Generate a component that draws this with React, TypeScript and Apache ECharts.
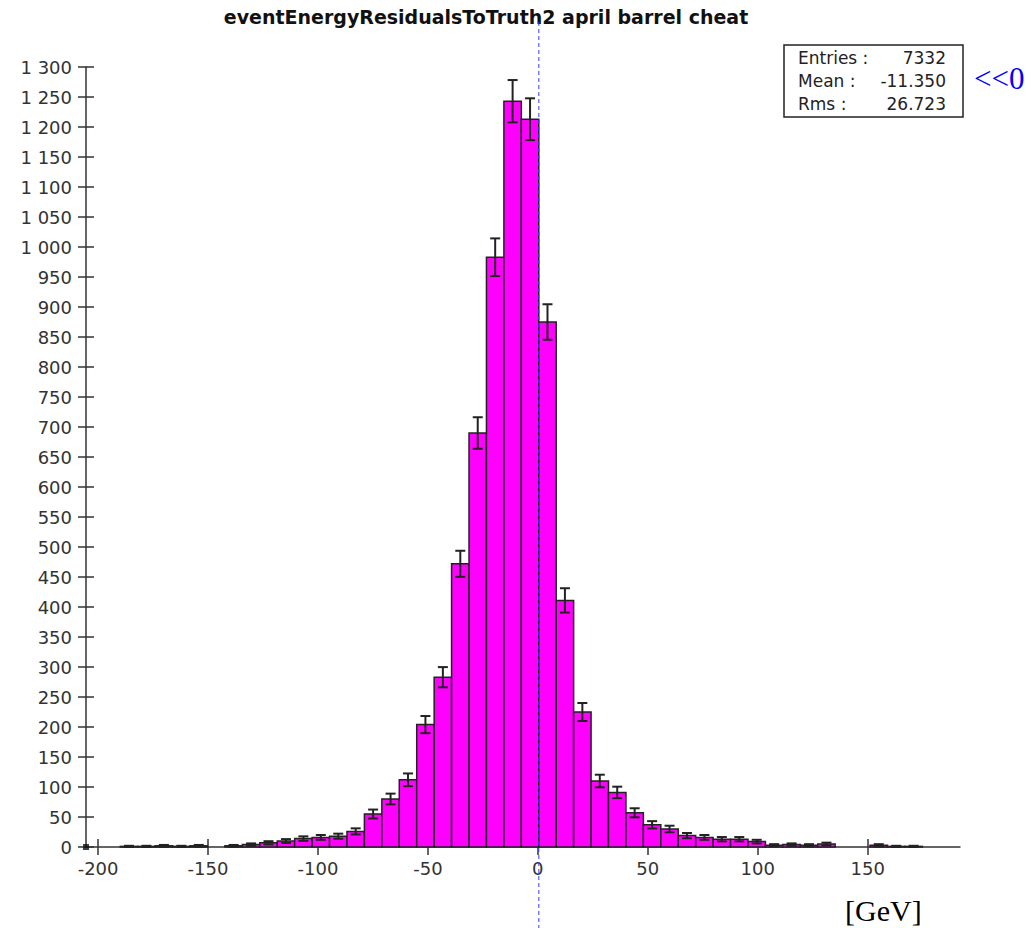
import React, { useEffect, useRef } from "react";
import * as echarts from "echarts";

// ---- data ----
const titleText = "eventEnergyResidualsToTruth2 april barrel cheat";
const binLow = -189.9; // lower edge of first filled bin [GeV]
const binWidth = 7.93; // bin width [GeV]
const counts = [
  1, 1, 2, 1, 2, 0, 2, 4, 7, 10, 14, 16, 18, 26, 55, 80, 112, 204, 283, 472,
  690, 983, 1243, 1213, 875, 411, 225, 110, 91, 57, 37, 30, 19, 16, 13, 13, 9,
  3, 4, 3, 5, 0, 0, 3, 1, 1,
];
const xTicks = [-200, -150, -100, -50, 0, 50, 100, 150];
const xMin = -205.5;
const xMax = 192;
const yMin = 0;
const yMax = 1300;
const yStep = 50;
const statsLabels = ["Entries :", "Mean :", "Rms :"];
const statsValues = ["7332", "-11.350", "26.723"];
const cutValue = 0;
const cutLabel = "<<0";
const unitLabel = "[GeV]";

const fmtY = (v: number) =>
  v >= 1000 ? `${Math.floor(v / 1000)} ${String(v % 1000).padStart(3, "0")}` : String(v);

export default function App() {
  const ref = useRef<HTMLDivElement>(null);
  useEffect(() => {
    if (!ref.current) return;
    const chart = echarts.init(ref.current, undefined, { renderer: "svg" });
    const histData = counts
      .map((c, i) => [binLow + i * binWidth, binLow + (i + 1) * binWidth, c, Math.sqrt(c)])
      .filter((d) => d[2] > 0);

    const axisColor = "#333";
    const labelFont = { fontFamily: "DejaVu Sans", fontSize: 18, color: "#333" };
    const tickStyle = { color: axisColor, width: 1.5 };

    const statsGraphics: any[] = [
      {
        type: "rect",
        shape: { x: 784, y: 45, width: 179, height: 72 },
        style: { fill: "#fff", stroke: "#222", lineWidth: 1.5 },
        z: 10,
      },
    ];
    const rowY = [58, 81, 104];
    statsLabels.forEach((l, i) => {
      statsGraphics.push({
        type: "text",
        x: 798,
        y: rowY[i],
        z: 11,
        style: { text: l, fontFamily: "DejaVu Sans", fontSize: 17, fill: "#222", textAlign: "left", textVerticalAlign: "middle" },
      });
      statsGraphics.push({
        type: "text",
        x: 946,
        y: rowY[i],
        z: 11,
        style: { text: statsValues[i], fontFamily: "DejaVu Sans", fontSize: 17, fill: "#222", textAlign: "right", textVerticalAlign: "middle" },
      });
    });

    chart.setOption({
      animation: false,
      backgroundColor: "#fff",
      grid: { left: 86, right: 72, top: 67, bottom: 81, containLabel: false },
      xAxis: [
        {
          type: "value",
          min: xMin,
          max: xMax,
          position: "bottom",
          axisLine: { show: true, onZero: false, lineStyle: { color: axisColor, width: 1.5 } },
          axisTick: { show: false },
          axisLabel: { ...labelFont, margin: 12, customValues: xTicks, formatter: (v: number) => String(v) },
          splitLine: { show: false },
        },
        {
          type: "value",
          min: xMin,
          max: xMax,
          position: "bottom",
          offset: -8,
          axisLine: { show: false, onZero: false },
          axisTick: { show: true, inside: false, length: 16, customValues: xTicks, lineStyle: tickStyle },
          axisLabel: { show: false },
          splitLine: { show: false },
        },
      ],
      yAxis: [
        {
          type: "value",
          min: yMin,
          max: yMax,
          interval: yStep,
          position: "left",
          axisLine: { show: true, onZero: false, lineStyle: { color: axisColor, width: 1.5 } },
          axisTick: { show: false },
          axisLabel: { ...labelFont, margin: 14, formatter: fmtY },
          splitLine: { show: false },
        },
        {
          type: "value",
          min: yMin,
          max: yMax,
          interval: yStep,
          position: "left",
          offset: -8,
          axisLine: { show: false, onZero: false },
          axisTick: { show: true, inside: false, length: 16, lineStyle: tickStyle },
          axisLabel: { show: false },
          splitLine: { show: false },
        },
      ],
      series: [
        {
          type: "custom",
          xAxisIndex: 0,
          yAxisIndex: 0,
          clip: false,
          data: histData,
          renderItem: (params: any, api: any) => {
            const lo = api.value(0);
            const hi = api.value(1);
            const c = api.value(2);
            const e = api.value(3);
            const tl = api.coord([lo, c]);
            const br = api.coord([hi, 0]);
            const mid = (lo + hi) / 2;
            const top = api.coord([mid, c + e]);
            const bot = api.coord([mid, Math.max(c - e, 0)]);
            const cap = 5;
            const es = { stroke: "#222", lineWidth: 2 };
            return {
              type: "group",
              children: [
                {
                  type: "rect",
                  shape: { x: tl[0], y: tl[1], width: br[0] - tl[0], height: Math.max(br[1] - tl[1], 0.6) },
                  style: { fill: "#ff00ff", stroke: "#222", lineWidth: 1.5 },
                },
                { type: "line", shape: { x1: top[0], y1: top[1], x2: bot[0], y2: bot[1] }, style: es },
                { type: "line", shape: { x1: top[0] - cap, y1: top[1], x2: top[0] + cap, y2: top[1] }, style: es },
                { type: "line", shape: { x1: bot[0] - cap, y1: bot[1], x2: bot[0] + cap, y2: bot[1] }, style: es },
              ],
            };
          },
          z: 2,
        },
        {
          type: "custom",
          xAxisIndex: 0,
          yAxisIndex: 0,
          clip: false,
          data: [[cutValue]],
          renderItem: (params: any, api: any) => {
            const p = api.coord([api.value(0), 0]);
            return {
              type: "line",
              shape: { x1: p[0] + 1, y1: 22, x2: p[0] + 1, y2: 928 },
              style: { stroke: "#3c3cff", lineWidth: 1, lineDash: [4, 3] },
            };
          },
          z: 5,
        },
        {
          type: "scatter",
          xAxisIndex: 0,
          yAxisIndex: 0,
          data: [[xMin, 0]],
          symbol: "rect",
          symbolSize: 6,
          itemStyle: { color: "#111" },
          z: 6,
        },
      ],
      graphic: [
        {
          type: "text",
          x: 486,
          y: 17,
          style: { text: titleText, fontFamily: "DejaVu Sans", fontWeight: "bold", fontSize: 19, fill: "#111", textAlign: "center", textVerticalAlign: "middle" },
        },
        ...statsGraphics,
        {
          type: "text",
          x: 974,
          y: 78,
          style: { text: cutLabel, fontFamily: "Liberation Serif", fontSize: 31, fill: "#0000ff", textAlign: "left", textVerticalAlign: "middle" },
        },
        {
          type: "text",
          x: 845,
          y: 910,
          style: { text: unitLabel, fontFamily: "Liberation Serif", fontSize: 30, fill: "#000", textAlign: "left", textVerticalAlign: "middle" },
        },
      ],
    });
    return () => chart.dispose();
  }, []);
  return (
    <div
      ref={ref}
      style={{ position: "absolute", left: 0, top: 0, width: 1032, height: 928, background: "#fff" }}
    />
  );
}
